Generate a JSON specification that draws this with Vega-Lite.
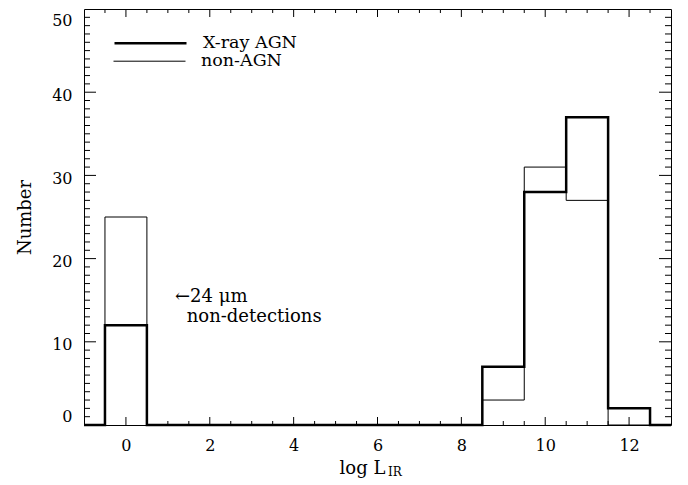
{
  "$schema": "https://vega.github.io/schema/vega-lite/v6.json",
  "width": 587,
  "height": 416,
  "autosize": "none",
  "padding": {"left": 84, "top": 9, "right": 17, "bottom": 60},
  "background": "white",
  "config": {
    "view": {"stroke": "black", "strokeWidth": 1},
    "font": "DejaVu Serif",
    "axis": {
      "labelColor": "black", "titleColor": "black",
      "labelFont": "DejaVu Serif", "titleFont": "DejaVu Serif",
      "labelFontSize": 16, "titleFontSize": 18, "titleFontWeight": "normal",
      "grid": false, "domain": false, "ticks": false
    }
  },
  "datasets": {
    "hist": [
      {"series": "X-ray AGN", "edge": -1, "count": 0},
      {"series": "X-ray AGN", "edge": -0.5, "count": 12},
      {"series": "X-ray AGN", "edge": 0.5, "count": 0},
      {"series": "X-ray AGN", "edge": 8.5, "count": 7},
      {"series": "X-ray AGN", "edge": 9.5, "count": 28},
      {"series": "X-ray AGN", "edge": 10.5, "count": 37},
      {"series": "X-ray AGN", "edge": 11.5, "count": 2},
      {"series": "X-ray AGN", "edge": 12.5, "count": 0},
      {"series": "X-ray AGN", "edge": 13, "count": 0},
      {"series": "non-AGN", "edge": -1, "count": 0},
      {"series": "non-AGN", "edge": -0.5, "count": 25},
      {"series": "non-AGN", "edge": 0.5, "count": 0},
      {"series": "non-AGN", "edge": 8.5, "count": 3},
      {"series": "non-AGN", "edge": 9.5, "count": 31},
      {"series": "non-AGN", "edge": 10.5, "count": 27},
      {"series": "non-AGN", "edge": 11.5, "count": 0},
      {"series": "non-AGN", "edge": 13, "count": 0}
    ],
    "notes": [
      {"x": 1.17, "y": 15.4, "label": "←24 μm"},
      {"x": 1.45, "y": 13.0, "label": "non-detections"}
    ],
    "sub": [
      {"x": 6.25, "y": -5.6, "label": "IR"}
    ],
    "xt": [
      {"v": -0.5, "kind": "minor"}, {"v": 0, "kind": "major"}, {"v": 0.5, "kind": "minor"}, {"v": 1, "kind": "minor"}, {"v": 1.5, "kind": "minor"},
      {"v": 2, "kind": "major"}, {"v": 2.5, "kind": "minor"}, {"v": 3, "kind": "minor"}, {"v": 3.5, "kind": "minor"},
      {"v": 4, "kind": "major"}, {"v": 4.5, "kind": "minor"}, {"v": 5, "kind": "minor"}, {"v": 5.5, "kind": "minor"},
      {"v": 6, "kind": "major"}, {"v": 6.5, "kind": "minor"}, {"v": 7, "kind": "minor"}, {"v": 7.5, "kind": "minor"},
      {"v": 8, "kind": "major"}, {"v": 8.5, "kind": "minor"}, {"v": 9, "kind": "minor"}, {"v": 9.5, "kind": "minor"},
      {"v": 10, "kind": "major"}, {"v": 10.5, "kind": "minor"}, {"v": 11, "kind": "minor"}, {"v": 11.5, "kind": "minor"},
      {"v": 12, "kind": "major"}, {"v": 12.5, "kind": "minor"}
    ],
    "yt": [
      {"v": 1, "kind": "minor"}, {"v": 2, "kind": "minor"}, {"v": 3, "kind": "minor"}, {"v": 4, "kind": "minor"}, {"v": 5, "kind": "minor"},
      {"v": 6, "kind": "minor"}, {"v": 7, "kind": "minor"}, {"v": 8, "kind": "minor"}, {"v": 9, "kind": "minor"}, {"v": 10, "kind": "major"},
      {"v": 11, "kind": "minor"}, {"v": 12, "kind": "minor"}, {"v": 13, "kind": "minor"}, {"v": 14, "kind": "minor"}, {"v": 15, "kind": "minor"},
      {"v": 16, "kind": "minor"}, {"v": 17, "kind": "minor"}, {"v": 18, "kind": "minor"}, {"v": 19, "kind": "minor"}, {"v": 20, "kind": "major"},
      {"v": 21, "kind": "minor"}, {"v": 22, "kind": "minor"}, {"v": 23, "kind": "minor"}, {"v": 24, "kind": "minor"}, {"v": 25, "kind": "minor"},
      {"v": 26, "kind": "minor"}, {"v": 27, "kind": "minor"}, {"v": 28, "kind": "minor"}, {"v": 29, "kind": "minor"}, {"v": 30, "kind": "major"},
      {"v": 31, "kind": "minor"}, {"v": 32, "kind": "minor"}, {"v": 33, "kind": "minor"}, {"v": 34, "kind": "minor"}, {"v": 35, "kind": "minor"},
      {"v": 36, "kind": "minor"}, {"v": 37, "kind": "minor"}, {"v": 38, "kind": "minor"}, {"v": 39, "kind": "minor"}, {"v": 40, "kind": "major"},
      {"v": 41, "kind": "minor"}, {"v": 42, "kind": "minor"}, {"v": 43, "kind": "minor"}, {"v": 44, "kind": "minor"}, {"v": 45, "kind": "minor"},
      {"v": 46, "kind": "minor"}, {"v": 47, "kind": "minor"}, {"v": 48, "kind": "minor"}, {"v": 49, "kind": "minor"}
    ]
  },
  "layer": [
    {
      "data": {"name": "hist"},
      "transform": [{"filter": "datum.series === 'non-AGN'"}],
      "mark": {"type": "line", "interpolate": "step-after", "color": "black"},
      "encoding": {
        "x": {
          "field": "edge", "type": "quantitative",
          "scale": {"domain": [-1, 13], "nice": false, "zero": false},
          "axis": {"orient": "bottom", "values": [0, 2, 4, 6, 8, 10, 12], "labelPadding": 12, "labelAngle": 0, "title": "log L", "titleX": 278, "titlePadding": 6}
        },
        "y": {
          "field": "count", "type": "quantitative",
          "scale": {"domain": [0, 50], "nice": false, "zero": false},
          "axis": {
            "orient": "left", "values": [0, 10, 20, 30, 40, 50], "labelPadding": 12,
            "labelOffset": {"condition": [{"test": "datum.value == 0", "value": -9}, {"test": "datum.value == 50", "value": 11}], "value": 3},
            "title": "Number", "titlePadding": 17
          }
        },
        "strokeWidth": {
          "field": "series", "type": "nominal",
          "scale": {"type": "ordinal", "domain": ["non-AGN"], "range": [1]},
          "legend": {
            "orient": "none", "legendX": 29, "legendY": 15.7, "title": null,
            "symbolType": "stroke", "symbolSize": 5184, "symbolStrokeColor": "black",
            "labelFont": "DejaVu Serif", "labelFontSize": 17.5, "labelColor": "black",
            "labelOffset": 15, "padding": 0
          }
        }
      }
    },
    {
      "data": {"name": "notes"},
      "mark": {"type": "text", "align": "left", "baseline": "middle", "font": "DejaVu Serif", "fontSize": 18, "color": "black"},
      "encoding": {
        "x": {"field": "x", "type": "quantitative", "axis": null},
        "y": {"field": "y", "type": "quantitative", "axis": null},
        "text": {"field": "label"}
      }
    },
    {
      "data": {"name": "sub"},
      "mark": {"type": "text", "align": "left", "baseline": "middle", "font": "DejaVu Serif", "fontSize": 12, "color": "black"},
      "encoding": {
        "x": {"field": "x", "type": "quantitative", "axis": null},
        "y": {"field": "y", "type": "quantitative", "axis": null},
        "text": {"field": "label"}
      }
    },
    {
      "data": {"name": "xt"},
      "transform": [{"filter": "datum.kind === 'major'"}],
      "mark": {"type": "tick", "orient": "vertical", "size": 16, "thickness": 1, "color": "black", "opacity": 1, "clip": true},
      "encoding": {
        "x": {"field": "v", "type": "quantitative", "axis": null},
        "y": {"datum": 0, "type": "quantitative", "axis": null}
      }
    },
    {
      "data": {"name": "xt"},
      "transform": [{"filter": "datum.kind === 'major'"}],
      "mark": {"type": "tick", "orient": "vertical", "size": 16, "thickness": 1, "color": "black", "opacity": 1, "clip": true},
      "encoding": {
        "x": {"field": "v", "type": "quantitative", "axis": null},
        "y": {"datum": 50, "type": "quantitative", "axis": null}
      }
    },
    {
      "data": {"name": "xt"},
      "transform": [{"filter": "datum.kind === 'minor'"}],
      "mark": {"type": "tick", "orient": "vertical", "size": 8, "thickness": 1, "color": "black", "opacity": 1, "clip": true},
      "encoding": {
        "x": {"field": "v", "type": "quantitative", "axis": null},
        "y": {"datum": 0, "type": "quantitative", "axis": null}
      }
    },
    {
      "data": {"name": "xt"},
      "transform": [{"filter": "datum.kind === 'minor'"}],
      "mark": {"type": "tick", "orient": "vertical", "size": 8, "thickness": 1, "color": "black", "opacity": 1, "clip": true},
      "encoding": {
        "x": {"field": "v", "type": "quantitative", "axis": null},
        "y": {"datum": 50, "type": "quantitative", "axis": null}
      }
    },
    {
      "data": {"name": "yt"},
      "transform": [{"filter": "datum.kind === 'major'"}],
      "mark": {"type": "tick", "orient": "horizontal", "size": 24, "thickness": 1, "color": "black", "opacity": 1, "clip": true},
      "encoding": {
        "y": {"field": "v", "type": "quantitative", "axis": null},
        "x": {"datum": -1, "type": "quantitative", "axis": null}
      }
    },
    {
      "data": {"name": "yt"},
      "transform": [{"filter": "datum.kind === 'major'"}],
      "mark": {"type": "tick", "orient": "horizontal", "size": 24, "thickness": 1, "color": "black", "opacity": 1, "clip": true},
      "encoding": {
        "y": {"field": "v", "type": "quantitative", "axis": null},
        "x": {"datum": 13, "type": "quantitative", "axis": null}
      }
    },
    {
      "data": {"name": "yt"},
      "transform": [{"filter": "datum.kind === 'minor'"}],
      "mark": {"type": "tick", "orient": "horizontal", "size": 12, "thickness": 1, "color": "black", "opacity": 1, "clip": true},
      "encoding": {
        "y": {"field": "v", "type": "quantitative", "axis": null},
        "x": {"datum": -1, "type": "quantitative", "axis": null}
      }
    },
    {
      "data": {"name": "yt"},
      "transform": [{"filter": "datum.kind === 'minor'"}],
      "mark": {"type": "tick", "orient": "horizontal", "size": 12, "thickness": 1, "color": "black", "opacity": 1, "clip": true},
      "encoding": {
        "y": {"field": "v", "type": "quantitative", "axis": null},
        "x": {"datum": 13, "type": "quantitative", "axis": null}
      }
    },
    {
      "data": {"name": "hist"},
      "transform": [{"filter": "datum.series === 'X-ray AGN'"}],
      "mark": {"type": "line", "interpolate": "step-after", "color": "black"},
      "encoding": {
        "x": {"field": "edge", "type": "quantitative", "axis": null},
        "y": {"field": "count", "type": "quantitative", "axis": null},
        "strokeWidth": {
          "field": "series", "type": "nominal",
          "scale": {"type": "ordinal", "domain": ["X-ray AGN"], "range": [2.5]},
          "legend": {
            "orient": "none", "legendX": 29, "legendY": -3.3, "title": null,
            "symbolType": "stroke", "symbolSize": 5184, "symbolStrokeColor": "black",
            "labelFont": "DejaVu Serif", "labelFontSize": 17.5, "labelColor": "black",
            "labelOffset": 15, "padding": 0
          }
        }
      }
    }
  ],
  "resolve": {
    "axis": {"x": "independent", "y": "independent"},
    "scale": {"strokeWidth": "independent"},
    "legend": {"strokeWidth": "independent"}
  }
}
